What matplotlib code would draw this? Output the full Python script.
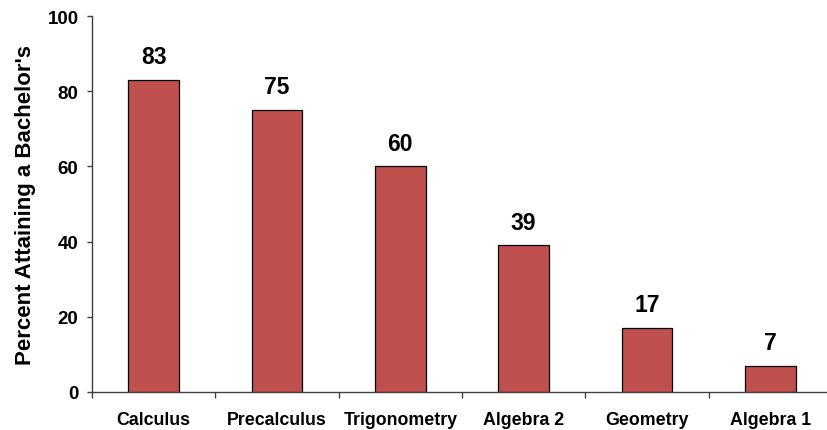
import matplotlib
matplotlib.use("Agg")
import matplotlib.pyplot as plt
import numpy as np

categories = ["Calculus", "Precalculus", "Trigonometry", "Algebra 2", "Geometry", "Algebra 1"]
values = [83, 75, 60, 39, 17, 7]
yticks = [0, 20, 40, 60, 80, 100]
ylabel = "Percent Attaining a Bachelor's"

plt.rcParams['font.family'] = ['Liberation Sans', 'DejaVu Sans']
plt.rcParams['font.weight'] = 'bold'

fig = plt.figure(figsize=(8.27, 4.31), dpi=100)
ax = fig.add_axes([92/827, 1-393/431, 740/827, (393-17)/431])

x = np.arange(len(categories))
ax.bar(x, values, width=0.41, color="#C0504D", edgecolor="black", linewidth=0.9, zorder=3)
for xi, v in zip(x, values):
    ax.annotate(str(v), (xi, v), xytext=(0, 8.5), textcoords="offset points",
                ha="center", va="bottom", fontsize=16.5, fontweight="bold")

ax.set_xlim(-0.5, len(categories) - 0.5)
ax.set_ylim(0, 100)
ax.set_yticks(yticks)
ax.set_yticklabels([str(t) for t in yticks], fontsize=13.5, fontweight="bold")
ax.set_xticks(x)
ax.set_xticklabels(categories, fontsize=12.8, fontweight="bold")
ax.set_xticks(np.arange(len(categories) + 1) - 0.5, minor=True)
ax.tick_params(axis="x", which="major", length=0, pad=13.5)
ax.tick_params(axis="x", which="minor", length=4, direction="out", color="#404040", width=1)
ax.tick_params(axis="y", length=3.7, direction="out", color="#404040", width=1, pad=6)
ax.set_ylabel(ylabel, fontsize=16, fontweight="bold", labelpad=8.5)

for s in ["top", "right"]:
    ax.spines[s].set_visible(False)
for s in ["left", "bottom"]:
    ax.spines[s].set_color("#404040")
    ax.spines[s].set_linewidth(1)

fig.savefig("out.png", dpi=100)
